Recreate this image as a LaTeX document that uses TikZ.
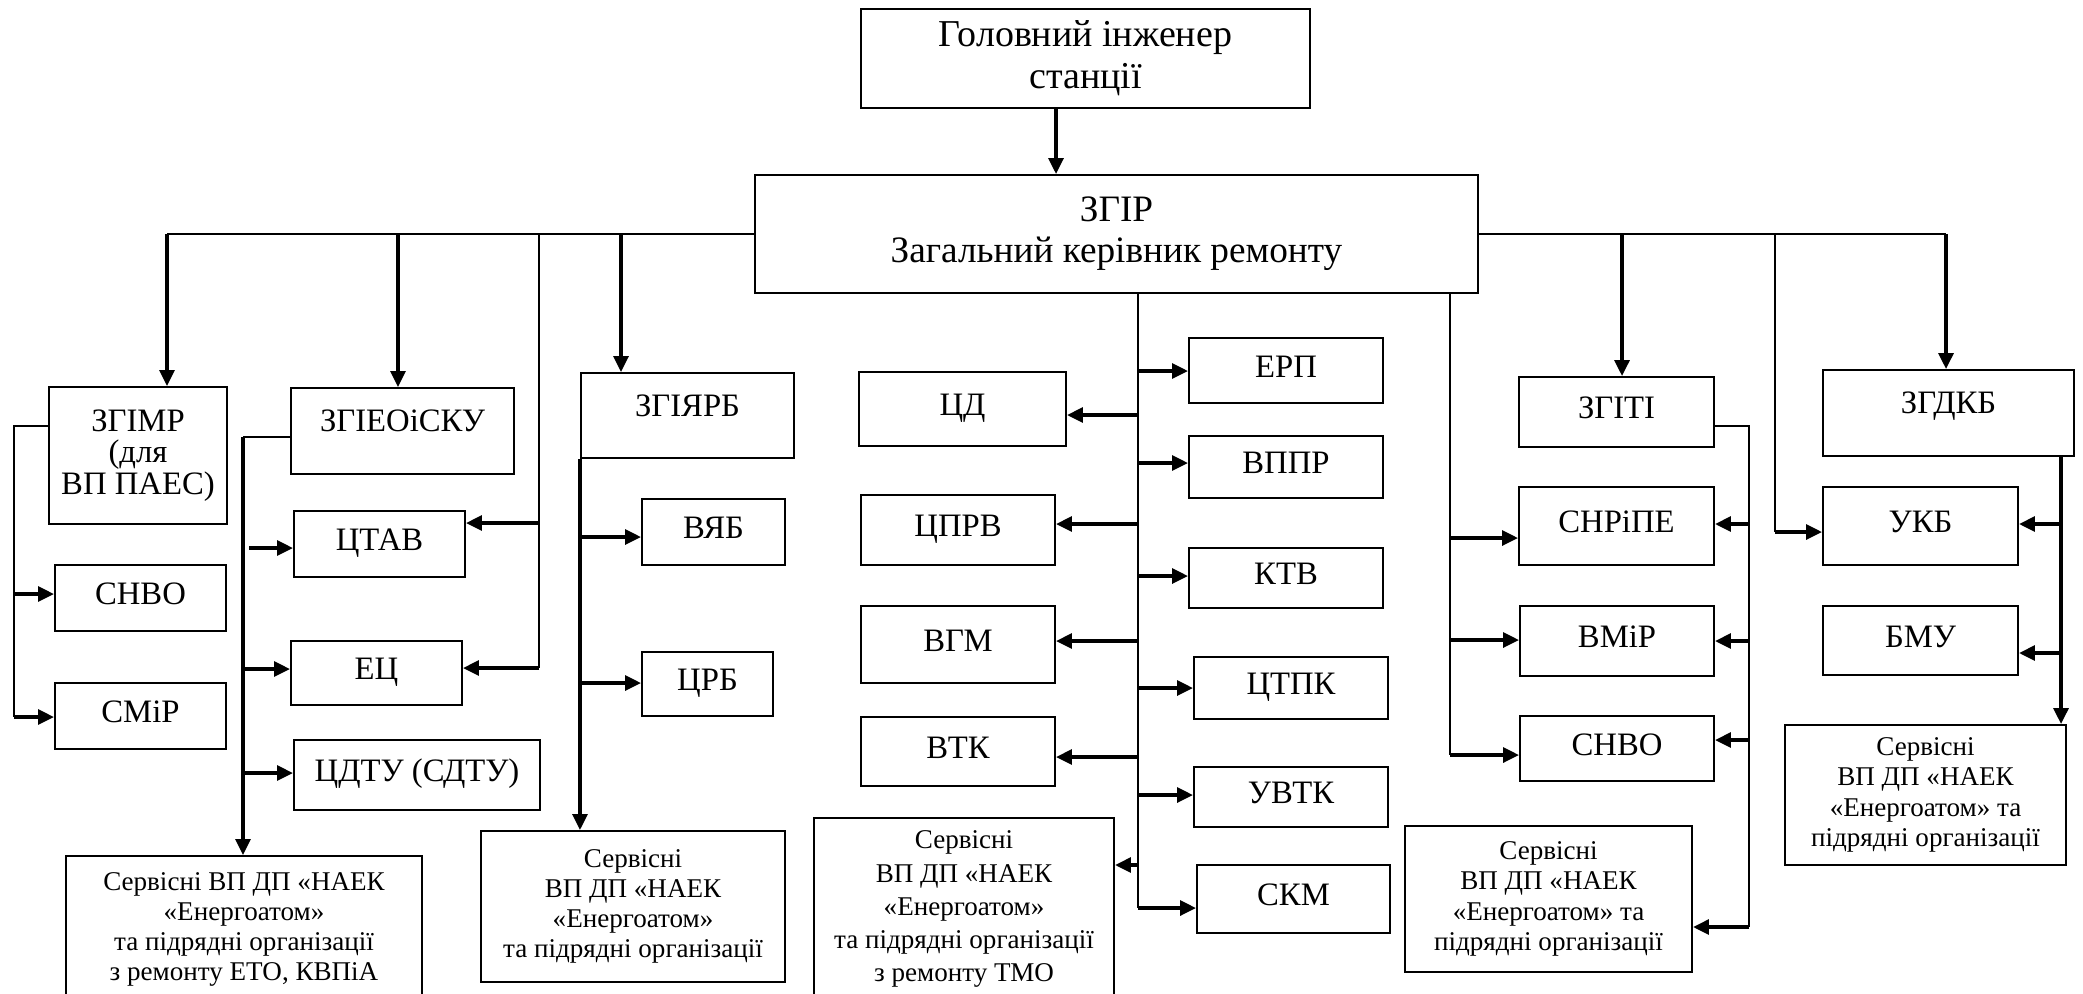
\documentclass[tikz,border=0pt]{standalone}
\usepackage{fontspec}
\setmainfont{Liberation Serif}
\usetikzlibrary{arrows.meta}
\newcommand{\fstitle}{\fontsize{10.8}{11.9}\selectfont}
\newcommand{\fshead}{\fontsize{10.6}{11.6}\selectfont}
\newcommand{\fsmain}{\fontsize{9.3}{9}\selectfont}
\newcommand{\fsserv}{\fontsize{7.7}{8.6}\selectfont}
\tikzset{
 unit/.style={draw, line width=0.55pt, inner sep=0pt, align=center, font=\fsmain},
 lbl/.style={unit, text height=0.23cm, text depth=0.1cm},
 raised/.style={unit, text height=0.23cm, text depth=0.22cm},
 serv/.style={unit, font=\fsserv},
 wire/.style={line width=0.55pt},
 arr/.style={->, line width=0.95pt},
 >={Triangle[length=4.5pt,width=4.2pt]}
}
\begin{document}
\begin{tikzpicture}[x=0.01cm,y=-0.01cm]
\useasboundingbox (0,0) rectangle (2083,993);
\clip (0,0) rectangle (2083,993);

\node[unit, font=\fstitle, minimum width=4.49cm, minimum height=0.99cm] (GI) at (1085.5,58.5) {Головний інженер\\станції};
\node[unit, font=\fshead, minimum width=7.23cm, minimum height=1.18cm] (ZGIR) at (1116.5,234) {ЗГІР\\Загальний керівник ремонту};

\coordinate (G_x) at (1056,0);
\draw[arr] (GI.south -| G_x) -- (ZGIR.north -| G_x);

% left part
\node[unit, minimum width=1.78cm, minimum height=1.37cm] (ZGIMR) at (138,455.5) {ЗГІМР\\(для\\ВП ПАЕС)};
\node[lbl, minimum width=1.71cm, minimum height=0.66cm] (SNVO_1) at (140.5,598) {СНВО};
\node[lbl, minimum width=1.71cm, minimum height=0.66cm] (SMIR) at (140.5,716) {СМіР};

\node[raised, minimum width=2.23cm, minimum height=0.86cm] (ZGIEO) at (402.5,431) {ЗГІЕОіСКУ};
\node[lbl, minimum width=1.71cm, minimum height=0.66cm] (CTAV) at (379.5,544) {ЦТАВ};
\node[lbl, minimum width=1.71cm, minimum height=0.64cm] (EC) at (376.5,673) {ЕЦ};
\node[lbl, minimum width=2.46cm, minimum height=0.70cm] (CDTU) at (417,775) {ЦДТУ (СДТУ)};
\node[serv, minimum width=3.56cm, minimum height=1.47cm] (SERV_1) at (244,929.5) {Сервісні ВП ДП «НАЕК\\«Енергоатом»\\та підрядні організації\\з ремонту ЕТО, КВПіА};

\node[raised, minimum width=2.13cm, minimum height=0.85cm] (ZGIYARB) at (687.5,415.5) {ЗГІЯРБ};
\node[lbl, minimum width=1.43cm, minimum height=0.66cm] (VYAB) at (713.5,532) {ВЯБ};
\node[lbl, minimum width=1.31cm, minimum height=0.64cm] (CRB) at (707.5,684) {ЦРБ};
\node[serv, minimum width=3.04cm, minimum height=1.51cm] (SERV_2) at (633,906.5) {Сервісні\\ВП ДП «НАЕК\\«Енергоатом»\\та підрядні організації};

% centre
\node[lbl, minimum width=2.07cm, minimum height=0.74cm] (CD) at (962.5,409) {ЦД};
\node[lbl, minimum width=1.94cm, minimum height=0.70cm] (CPRV) at (958,530) {ЦПРВ};
\node[lbl, minimum width=1.94cm, minimum height=0.77cm] (VGM) at (958,644.5) {ВГМ};
\node[lbl, minimum width=1.94cm, minimum height=0.69cm] (VTK) at (958,751.5) {ВТК};
\node[serv, font=\fontsize{7.7}{9.4}\selectfont, minimum width=3.00cm, minimum height=1.82cm] (SERV_3) at (964,909) {Сервісні\\ВП ДП «НАЕК\\«Енергоатом»\\та підрядні організації\\з ремонту ТМО};

\node[lbl, minimum width=1.94cm, minimum height=0.65cm] (ERP) at (1286,370.5) {ЕРП};
\node[lbl, minimum width=1.94cm, minimum height=0.62cm] (VPPR) at (1286,467) {ВППР};
\node[lbl, minimum width=1.94cm, minimum height=0.60cm] (KTV) at (1286,578) {КТВ};
\node[lbl, minimum width=1.94cm, minimum height=0.62cm] (CTPK) at (1291,688) {ЦТПК};
\node[lbl, minimum width=1.94cm, minimum height=0.60cm] (UVTK) at (1291,797) {УВТК};
\node[lbl, minimum width=1.93cm, minimum height=0.68cm] (SKM) at (1293.5,899) {СКМ};

% right part
\node[lbl, minimum width=1.95cm, minimum height=0.70cm] (ZGITI) at (1616.5,412) {ЗГІТІ};
\node[lbl, minimum width=1.95cm, minimum height=0.78cm] (SNRIPE) at (1616.5,526) {СНРіПЕ};
\node[lbl, minimum width=1.94cm, minimum height=0.70cm] (VMIR) at (1617,641) {ВМіР};
\node[lbl, minimum width=1.94cm, minimum height=0.65cm] (SNVO_2) at (1617,748.5) {СНВО};
\node[serv, minimum width=2.87cm, minimum height=1.46cm] (SERV_4) at (1548.5,899) {Сервісні\\ВП ДП «НАЕК\\«Енергоатом» та\\підрядні організації};

\node[raised, minimum width=2.51cm, minimum height=0.86cm] (ZGDKB) at (1948.5,413) {ЗГДКБ};
\node[lbl, minimum width=1.95cm, minimum height=0.78cm] (UKB) at (1920.5,526) {УКБ};
\node[lbl, minimum width=1.95cm, minimum height=0.69cm] (BMU) at (1920.5,640.5) {БМУ};
\node[serv, minimum width=2.81cm, minimum height=1.40cm] (SERV_5) at (1925.5,795) {Сервісні\\ВП ДП «НАЕК\\«Енергоатом» та\\підрядні організації};

% bus
\coordinate (X_zgimr) at (167,234);
\coordinate (X_zgieo) at (398,234);
\coordinate (X_ctav) at (539,234);
\coordinate (X_zgiyarb) at (621,234);
\coordinate (X_zgiti) at (1622,234);
\coordinate (X_ukb) at (1775,234);
\coordinate (X_zgdkb) at (1946,234);
\draw[wire] (ZGIR.west) -- (X_zgimr);
\draw[wire] (ZGIR.east) -- (X_zgdkb);
\draw[arr] (X_zgimr) -- (X_zgimr |- ZGIMR.north);
\draw[arr] (X_zgieo) -- (X_zgieo |- ZGIEO.north);
\draw[arr] (X_zgiyarb) -- (X_zgiyarb |- ZGIYARB.north);
\draw[arr] (X_zgiti) -- (X_zgiti |- ZGITI.north);
\draw[arr] (X_zgdkb) -- (X_zgdkb |- ZGDKB.north);

\coordinate (M_top) at (14,426);
\coordinate (M_1) at (14,594);
\coordinate (M_2) at (14,717);
\draw[wire] (ZGIMR.west |- M_top) -- (M_top) -- (M_2);
\draw[arr] (M_1) -- (M_1 -| SNVO_1.west);
\draw[arr] (M_2) -- (M_2 -| SMIR.west);

\coordinate (E_top) at (243,437);
\coordinate (E_1) at (243,669);
\coordinate (E_2) at (243,773);
\coordinate (E_3) at (249,548);
\draw[wire] (ZGIEO.west |- E_top) -- (E_top);
\draw[arr] (E_top) -- (E_top |- SERV_1.north);
\draw[arr] (E_1) -- (E_1 -| EC.west);
\draw[arr] (E_2) -- (E_2 -| CDTU.west);
\draw[arr] (E_3) -- (E_3 -| CTAV.west);

\coordinate (R_1) at (539,523);
\coordinate (R_2) at (539,668);
\draw[wire] (X_ctav) -- (R_2);
\draw[arr] (R_1) -- (R_1 -| CTAV.east);
\draw[arr] (R_2) -- (R_2 -| EC.east);

\coordinate (Y_1) at (581,537);
\coordinate (Y_2) at (581,683);
\draw[arr] (ZGIYARB.south west) -- (ZGIYARB.south west |- SERV_2.north);
\draw[arr] (Y_1) -- (Y_1 -| VYAB.west);
\draw[arr] (Y_2) -- (Y_2 -| CRB.west);

% centre line
\coordinate (C_cd) at (1138,415);
\coordinate (C_cprv) at (1138,524);
\coordinate (C_vgm) at (1138,641);
\coordinate (C_vtk) at (1138,757);
\coordinate (C_serv) at (1138,865);
\coordinate (C_erp) at (1138,371);
\coordinate (C_vppr) at (1138,463);
\coordinate (C_ktv) at (1138,576);
\coordinate (C_ctpk) at (1138,688);
\coordinate (C_uvtk) at (1138,795);
\coordinate (C_skm) at (1138,908);
\draw[wire] (ZGIR.south -| C_skm) -- (C_skm);
\draw[arr] (C_cd) -- (C_cd -| CD.east);
\draw[arr] (C_cprv) -- (C_cprv -| CPRV.east);
\draw[arr] (C_vgm) -- (C_vgm -| VGM.east);
\draw[arr] (C_vtk) -- (C_vtk -| VTK.east);
\draw[arr] (C_serv) -- (C_serv -| SERV_3.east);
\draw[arr] (C_erp) -- (C_erp -| ERP.west);
\draw[arr] (C_vppr) -- (C_vppr -| VPPR.west);
\draw[arr] (C_ktv) -- (C_ktv -| KTV.west);
\draw[arr] (C_ctpk) -- (C_ctpk -| CTPK.west);
\draw[arr] (C_uvtk) -- (C_uvtk -| UVTK.west);
\draw[arr] (C_skm) -- (C_skm -| SKM.west);

% right
\coordinate (T_1) at (1450,538);
\coordinate (T_2) at (1450,640);
\coordinate (T_3) at (1450,755);
\draw[wire] (ZGIR.south -| T_1) -- (T_3);
\draw[arr] (T_1) -- (T_1 -| SNRIPE.west);
\draw[arr] (T_2) -- (T_2 -| VMIR.west);
\draw[arr] (T_3) -- (T_3 -| SNVO_2.west);

\coordinate (I_top) at (1749,426);
\coordinate (I_1) at (1749,524);
\coordinate (I_2) at (1749,641);
\coordinate (I_3) at (1749,740);
\coordinate (I_4) at (1749,927);
\draw[wire] (ZGITI.east |- I_top) -- (I_top) -- (I_4);
\draw[arr] (I_1) -- (I_1 -| SNRIPE.east);
\draw[arr] (I_2) -- (I_2 -| VMIR.east);
\draw[arr] (I_3) -- (I_3 -| SNVO_2.east);
\draw[arr] (I_4) -- (I_4 -| SERV_4.east);

\coordinate (K_1) at (1775,532);
\draw[wire] (X_ukb) -- (K_1);
\draw[arr] (K_1) -- (K_1 -| UKB.west);

\coordinate (D_1) at (2061,524);
\coordinate (D_2) at (2061,653);
\draw[arr] (ZGDKB.south -| D_1) -- (D_1 |- SERV_5.north);
\draw[arr] (D_1) -- (D_1 -| UKB.east);
\draw[arr] (D_2) -- (D_2 -| BMU.east);
\end{tikzpicture}
\end{document}
